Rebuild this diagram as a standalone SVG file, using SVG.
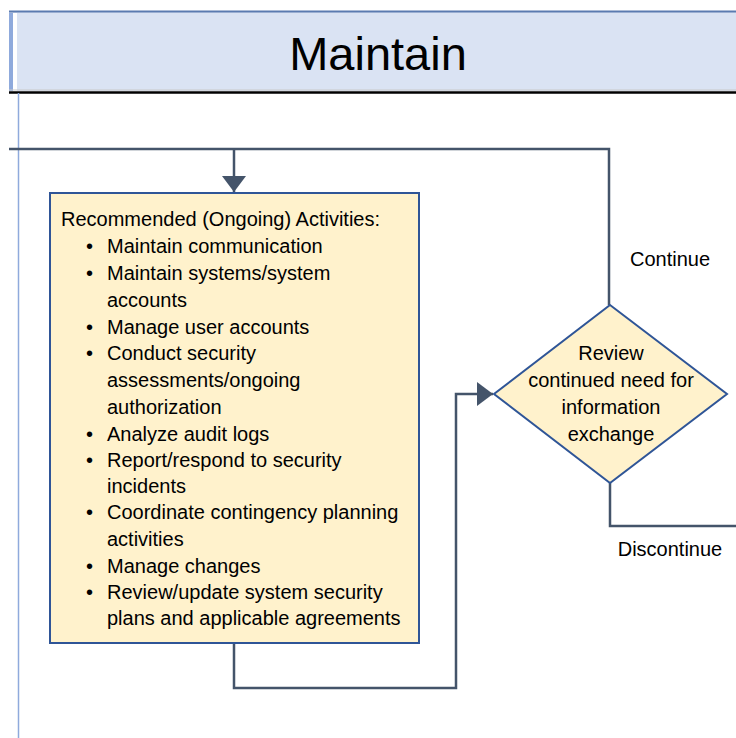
<svg xmlns="http://www.w3.org/2000/svg" width="736" height="738" viewBox="0 0 736 738">
<defs>
<style>
.t{font-family:"Liberation Sans",Arial,sans-serif;font-size:20px;fill:#000}
.c{stroke:#44546A;stroke-width:2.5;fill:none}
.n{fill:#FFF2CC;stroke:#2F5597;stroke-width:2}
</style>
<marker id="ah2" viewBox="0 0 16 24" refX="16" refY="12" markerWidth="16" markerHeight="24" orient="auto" markerUnits="userSpaceOnUse">
<path d="M0,0 L16,12 L0,24 Z" fill="#44546A"/>
</marker>
</defs>
<rect width="736" height="738" fill="#fff"/>
<g id="header">
<rect x="9" y="11" width="727" height="80" fill="#DAE3F3"/>
<rect x="9" y="13" width="4" height="78" fill="#8FAADC"/>
<rect x="13" y="13" width="4" height="78" fill="#fff"/>
<line x1="9" y1="11.5" x2="736" y2="11.5" stroke="#5B7BB0" stroke-width="2"/>
<line x1="9" y1="90" x2="736" y2="90" stroke="#C8C8C8" stroke-width="1"/>
<line x1="9" y1="92.5" x2="736" y2="92.5" stroke="#000" stroke-width="2.5"/>
<text x="378" y="70" text-anchor="middle" font-family="Liberation Sans,Arial,sans-serif" font-size="47" fill="#000">Maintain</text>
</g>
<line x1="18.5" y1="93" x2="18.5" y2="738" stroke="#8FAADC" stroke-width="1.5"/>
<g id="connectors">
<path class="c" d="M9,149 H609 V305"/>
<path class="c" d="M234,149 V192" marker-end="url(#ah2)"/>
<path class="c" d="M234,644 V688 H456 V394 H493" marker-end="url(#ah2)"/>
<path class="c" d="M610,483 V526 H736"/>
</g>
<g id="activities">
<rect class="n" x="50" y="193" width="369" height="450"/>
<text class="t" x="61" y="226">Recommended (Ongoing) Activities:</text>
<g class="t">
<text x="86" y="253">•</text><text x="107" y="253">Maintain communication</text>
<text x="86" y="280">•</text><text x="107" y="280">Maintain systems/system</text>
<text x="107" y="307">accounts</text>
<text x="86" y="334">•</text><text x="107" y="334">Manage user accounts</text>
<text x="86" y="360">•</text><text x="107" y="360">Conduct security</text>
<text x="107" y="387">assessments/ongoing</text>
<text x="107" y="414">authorization</text>
<text x="86" y="441">•</text><text x="107" y="441">Analyze audit logs</text>
<text x="86" y="467">•</text><text x="107" y="467">Report/respond to security</text>
<text x="107" y="493">incidents</text>
<text x="86" y="519">•</text><text x="107" y="519">Coordinate contingency planning</text>
<text x="107" y="546">activities</text>
<text x="86" y="573">•</text><text x="107" y="573">Manage changes</text>
<text x="86" y="599">•</text><text x="107" y="599">Review/update system security</text>
<text x="107" y="625">plans and applicable agreements</text>
</g>
</g>
<g id="decision">
<polygon class="n" points="610,305 727,394 610,483 494,394"/>
<g class="t" text-anchor="middle">
<text x="611" y="360">Review</text>
<text x="611" y="387">continued need for</text>
<text x="611" y="414">information</text>
<text x="611" y="441">exchange</text>
</g>
</g>
<g id="labels" class="t" text-anchor="middle">
<text x="670" y="266">Continue</text>
<text x="670" y="556">Discontinue</text>
</g>
</svg>
